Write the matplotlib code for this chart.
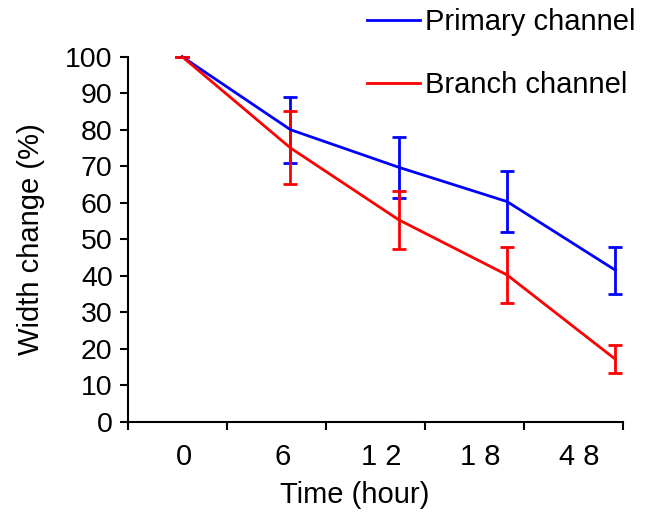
import numpy as np
import matplotlib.pyplot as plt
import matplotlib.transforms as mtransforms
from matplotlib.ticker import FixedLocator, NullFormatter

plt.rcParams['font.family'] = ['Liberation Sans', 'DejaVu Sans']

# Данные
time_labels = ['0', '6', '1 2', '1 8', '4 8']
primary = [100, 80, 69.7, 60.3, 41.5]
primary_err = [0, 9, 8.4, 8.3, 6.5]
branch = [100, 75, 55.3, 40.2, 17.1]
branch_err = [0, 10, 7.9, 7.8, 3.8]

fig = plt.figure(figsize=(6.68, 5.14), dpi=100)
ax = fig.add_axes([128 / 668, 92.3 / 514, 495 / 668, 365 / 514])

# категории: метки по центрам, засечки на границах
n = len(time_labels)
ax.set_xlim(-0.5, n - 0.5)
ax.set_ylim(0, 100)
ax.xaxis.set_major_locator(FixedLocator(np.arange(n + 1) - 0.5))
ax.xaxis.set_major_formatter(NullFormatter())
ax.xaxis.set_minor_locator(FixedLocator(np.arange(n)))
ax.set_xticklabels(time_labels, minor=True)
ax.tick_params(axis='x', which='minor', length=0, pad=15, labelsize=21)
ax.tick_params(axis='x', which='major', direction='out', length=6, width=1.5)
ax.set_yticks(np.arange(0, 101, 10))
ax.tick_params(axis='y', direction='out', length=6, width=1.5, pad=5, labelsize=20.5)

# небольшой сдвиг подписей вправо, как в оригинале
shift = mtransforms.ScaledTranslation(6 / 100, 0, fig.dpi_scale_trans)
for lab in ax.xaxis.get_minorticklabels():
    lab.set_transform(lab.get_transform() + shift)

for s in ['top', 'right']:
    ax.spines[s].set_visible(False)
for s in ['left', 'bottom']:
    ax.spines[s].set_linewidth(1.5)

ax.set_xlabel('Time (hour)', fontsize=21)
ax.xaxis.set_label_coords(0.457, -0.163)
ax.set_ylabel('Width change (%)', fontsize=21)
ax.yaxis.set_label_coords(-0.168, 0.5)

# линии рисуются в своей шкале по x (как в исходнике)
ax2 = ax.twiny()
ax2.set_xlim(-0.5, 4.07)
ax2.axis('off')
ax2.set_ylim(0, 100)
xs = np.arange(n)
ax2.errorbar(xs, primary, yerr=primary_err, color='#0000ff', lw=2,
             elinewidth=2, capsize=4.7, capthick=2, label='Primary channel',
             clip_on=False)
ax2.errorbar(xs, branch, yerr=branch_err, color='#ff0000', lw=2,
             elinewidth=2, capsize=4.7, capthick=2, label='Branch channel',
             clip_on=False)

h, l = ax2.get_legend_handles_labels()
h = [hh[0] for hh in h]
fig.legend(h, l, loc='upper left', bbox_to_anchor=(367 / 668, 1 - 8 / 514),
           frameon=False, fontsize=21, borderpad=0, borderaxespad=0,
           handlelength=1.8, handletextpad=0.2, labelspacing=1.2)

plt.savefig('out.png', dpi=100)
